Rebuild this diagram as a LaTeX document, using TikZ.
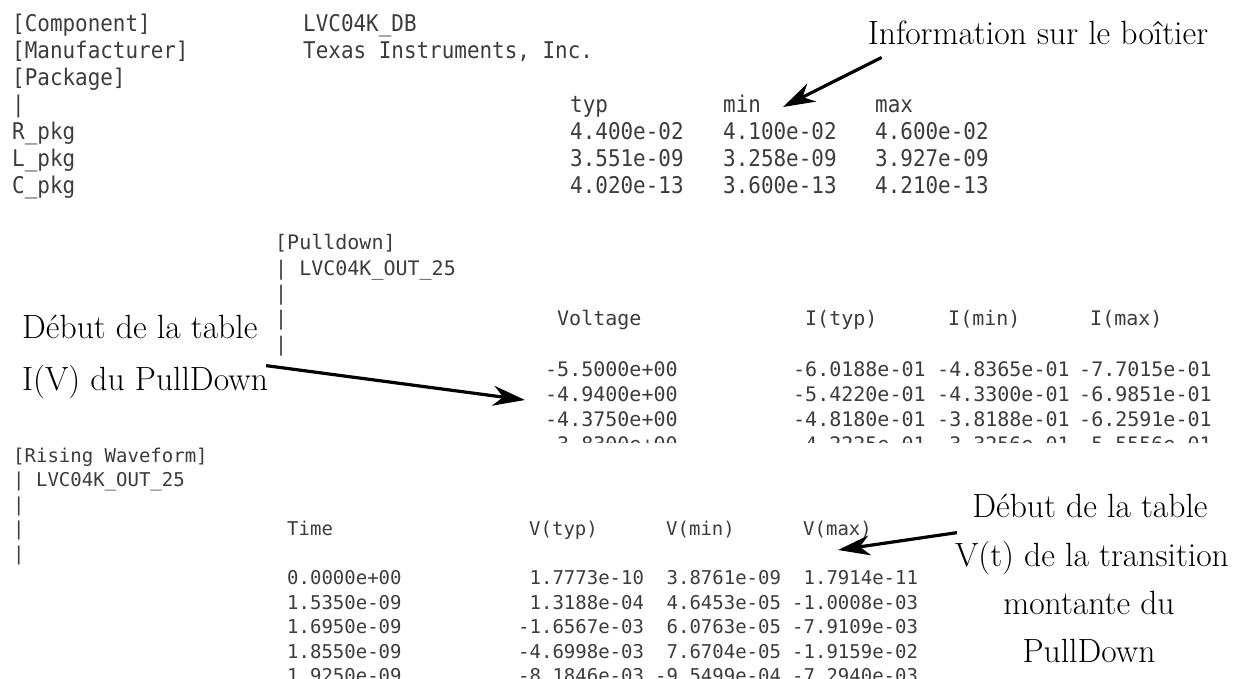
\documentclass[tikz,border=0pt]{standalone}
\usepackage{fontspec}
\newfontfamily\monoA{DejaVu Sans Mono}[FakeStretch=0.91]
\newfontfamily\monoB{DejaVu Sans Mono}
\usetikzlibrary{arrows.meta}
\definecolor{termgray}{HTML}{3C3C3C}
\tikzset{
	ibis/.style={text=termgray, inner sep=0pt, anchor=base west},
	ibisA/.style={ibis, font=\monoA\fontsize{23}{27}\selectfont},
	ibisB/.style={ibis, font=\monoB\fontsize{20}{25}\selectfont},
	ibisC/.style={ibis, font=\monoB\fontsize{19}{24}\selectfont},
	note/.style={inner sep=0pt, anchor=base, font=\fontsize{33.6}{40}\selectfont},
	pointer/.style={line width=3.2pt, -{Stealth[length=32pt,width=20pt,inset=10pt]}},
}
\begin{document}
\begin{tikzpicture}[x=1pt,y=-1pt,line join=round]
	\useasboundingbox[fill=white] (0,0) rectangle (1245,679);
	
	% [Package]
	\node[ibisA] (comp) at (12,32) {[Component]};
	\node[ibisA] (manuf) at (12,59) {[Manufacturer]};
	\node[ibisA] (pack) at (12,86) {[Package]};
	\node[ibisA] (compname) at (303,32) {LVC04K\_DB};
	\node[ibisA] (manufname) at (303,59) {Texas Instruments, Inc.};
	\node[ibisA] (bar0) at (12,113) {|};
	\foreach \nm/\xx in {typ/570, min/723, max/875}
		\node[ibisA] (h\nm) at (\xx,113) {\nm};
	\foreach \nm/\ty/\mn/\mx [count=\i] in {R/4.400e-02/4.100e-02/4.600e-02,
		L/3.551e-09/3.258e-09/3.927e-09, C/4.020e-13/3.600e-13/4.210e-13}{
		\node[ibisA] (pkg\i) at (12,113+27*\i) {\nm\_pkg};
		\node[ibisA] (pkgtyp\i) at (570,113+27*\i) {\ty};
		\node[ibisA] (pkgmin\i) at (723,113+27*\i) {\mn};
		\node[ibisA] (pkgmax\i) at (875,113+27*\i) {\mx};
	}
	
	% [Pulldown]
	\begin{scope}
		\clip (250,225) rectangle (1245,442);
		\node[ibisB] (pd) at (275,250) {[Pulldown]};
		\node[ibisB] (pdmodel) at (275,275) {|~LVC04K\_OUT\_25};
		\foreach \yy [count=\i] in {300,325,351}
			\node[ibisB] (pdbar\i) at (275,\yy) {|};
		\node[ibisB] (hvolt) at (557,325) {Voltage};
		\node[ibisB] (hityp) at (805,325) {I(typ)};
		\node[ibisB] (himin) at (948,325) {I(min)};
		\node[ibisB] (himax) at (1090,325) {I(max)};
		\foreach \v/\ty/\mn/\mx [count=\i] in {-5.5000e+00/-6.0188e-01/-4.8365e-01/-7.7015e-01,
			-4.9400e+00/-5.4220e-01/-4.3300e-01/-6.9851e-01,
			-4.3750e+00/-4.8180e-01/-3.8188e-01/-6.2591e-01,
			-3.8300e+00/-4.2225e-01/-3.3256e-01/-5.5556e-01}{
			\node[ibisB] (pdv\i) at (545,350.7+25.3*\i) {\v};
			\node[ibisB] (pdtyp\i) at (793,350.7+25.3*\i) {\ty};
			\node[ibisB] (pdmin\i) at (937,350.7+25.3*\i) {\mn};
			\node[ibisB] (pdmax\i) at (1079,350.7+25.3*\i) {\mx};
		}
	\end{scope}
	
	% [Rising Waveform]
	\begin{scope}
		\clip (0,442) rectangle (1245,679);
		\node[ibisC] (rw) at (13,462) {[Rising Waveform]};
		\node[ibisC] (rwmodel) at (13,486.5) {|~LVC04K\_OUT\_25};
		\foreach \yy [count=\i] in {511,535.5,560}
			\node[ibisC] (rwbar\i) at (13,\yy) {|};
		\node[ibisC] (htime) at (287,535.5) {Time};
		\node[ibisC] (hvtyp) at (529,535.5) {V(typ)};
		\node[ibisC] (hvmin) at (666,535.5) {V(min)};
		\node[ibisC] (hvmax) at (803,535.5) {V(max)};
		\foreach \t/\ty/\mn/\mx [count=\i] in {0.0000e+00/~1.7773e-10/~3.8761e-09/~1.7914e-11,
			1.5350e-09/~1.3188e-04/~4.6453e-05/-1.0008e-03,
			1.6950e-09/-1.6567e-03/~6.0763e-05/-7.9109e-03,
			1.8550e-09/-4.6998e-03/~7.6704e-05/-1.9159e-02,
			1.9250e-09/-8.1846e-03/-9.5499e-04/-7.2940e-03}{
			\node[ibisC] (rwt\i) at (287,560+24.5*\i) {\t};
			\node[ibisC] (rwtyp\i) at (518,560+24.5*\i) {\ty};
			\node[ibisC] (rwmin\i) at (655,560+24.5*\i) {\mn};
			\node[ibisC] (rwmax\i) at (792,560+24.5*\i) {\mx};
		}
	\end{scope}
	
	% annotations
	\node[note] (infolbl) at (1038,45) {Information sur le boîtier};
	\node[note,anchor=base west] (pdlbl1) at (22,338) {Début de la table};
	\node[note,anchor=base west] (pdlbl2) at (22,390) {I(V) du PullDown};
	\node[note] (vtlbl1) at (1090,517) {Début de la table};
	\node[note] (vtlbl2) at (1092,566) {V(t) de la transition};
	\node[note] (vtlbl3) at (1089,614) {montante du};
	\node[note] (vtlbl4) at (1089,662) {PullDown};
	
	\coordinate (infotip) at (783,107);
	\coordinate (pdtip) at (525,400);
	\coordinate (vttip) at (838,550);
	\draw[pointer] ([shift={(14,12)}]infolbl.south west)--(infotip);
	\draw[pointer] ([shift={(-2,1)}]pdlbl2.north east)--(pdtip);
	\draw[pointer] ([shift={(2,-8)}]vtlbl2.north west)--(vttip);
\end{tikzpicture}
\end{document}
